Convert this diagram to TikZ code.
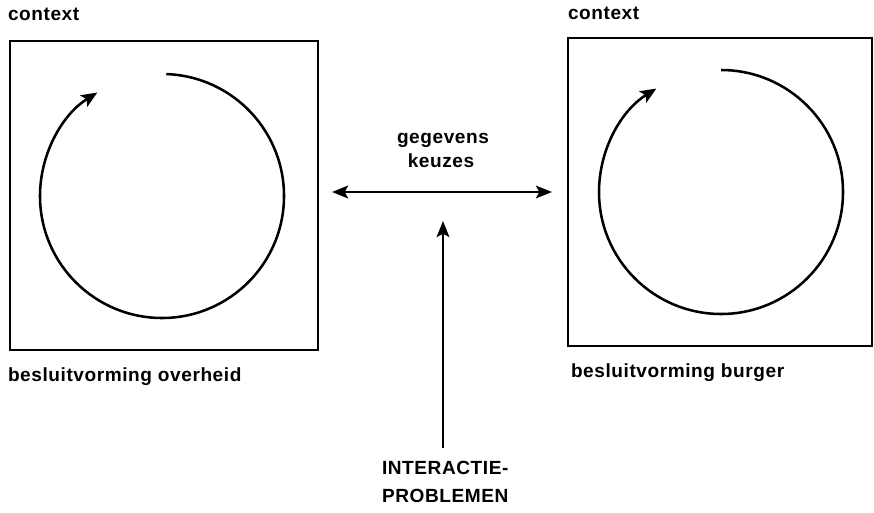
\documentclass[tikz,border=0pt]{standalone}
\usepackage{fontspec}
\setmainfont[LetterSpace=3]{Liberation Sans}
\usetikzlibrary{arrows.meta}
\begin{document}
\begin{tikzpicture}[x=0.75pt,y=0.75pt,
  lbl/.style={font=\fontsize{14.3pt}{17pt}\selectfont\bfseries, inner sep=0pt, outer sep=0pt},
  frame/.style={draw, line width=2pt, inner sep=0pt, outer sep=0pt},
  cycle/.style={line width=1.9pt, -{Stealth[length=12pt,width=10pt,inset=2.5pt]}},
  link/.style={line width=1.9pt, {Stealth[length=12pt,width=9.5pt,inset=2.5pt]}-{Stealth[length=12pt,width=9.5pt,inset=2.5pt]}},
  uplink/.style={line width=1.9pt, -{Stealth[length=12pt,width=9.5pt,inset=2.5pt]}}]
\useasboundingbox (0,0) rectangle (874,512);
% boxes
\node[frame, minimum width=231pt, minimum height=231.75pt] (gov) at (164,316.5) {};
\node[frame, minimum width=228pt, minimum height=231pt] (cit) at (720,320) {};
% cycles
\draw[cycle] (162,316) ++(88:122) arc[start angle=88, end angle=-238, radius=122];
\draw[cycle] (721,320) ++(90:122) arc[start angle=90, end angle=-238, radius=122];
% labels
\node[lbl, anchor=base west] (ctxl) at (8,491.3) {context};
\node[lbl, anchor=base west] (ctxr) at (568,493) {context};
\node[lbl, anchor=base west] (bov) at (8,131) {besluitvorming overheid};
\node[lbl, anchor=base west] (bbu) at (571,135) {besluitvorming burger};
\node[lbl, anchor=base] (geg) at (443,369) {gegevens};
\node[lbl, anchor=base] (keu) at (441,345) {keuzes};
\node[lbl, anchor=base west] (int) at (382,38) {INTERACTIE-};
\node[lbl, anchor=base west] (prob) at (382,10) {PROBLEMEN};
% connectors
\coordinate (hl) at (332,320);
\coordinate (hr) at (552,320);
\draw[link] (hl) -- (hr);
\coordinate (vb) at (443,64);
\coordinate (vt) at (443,291);
\draw[uplink] (vb) -- (vt);
\end{tikzpicture}
\end{document}
